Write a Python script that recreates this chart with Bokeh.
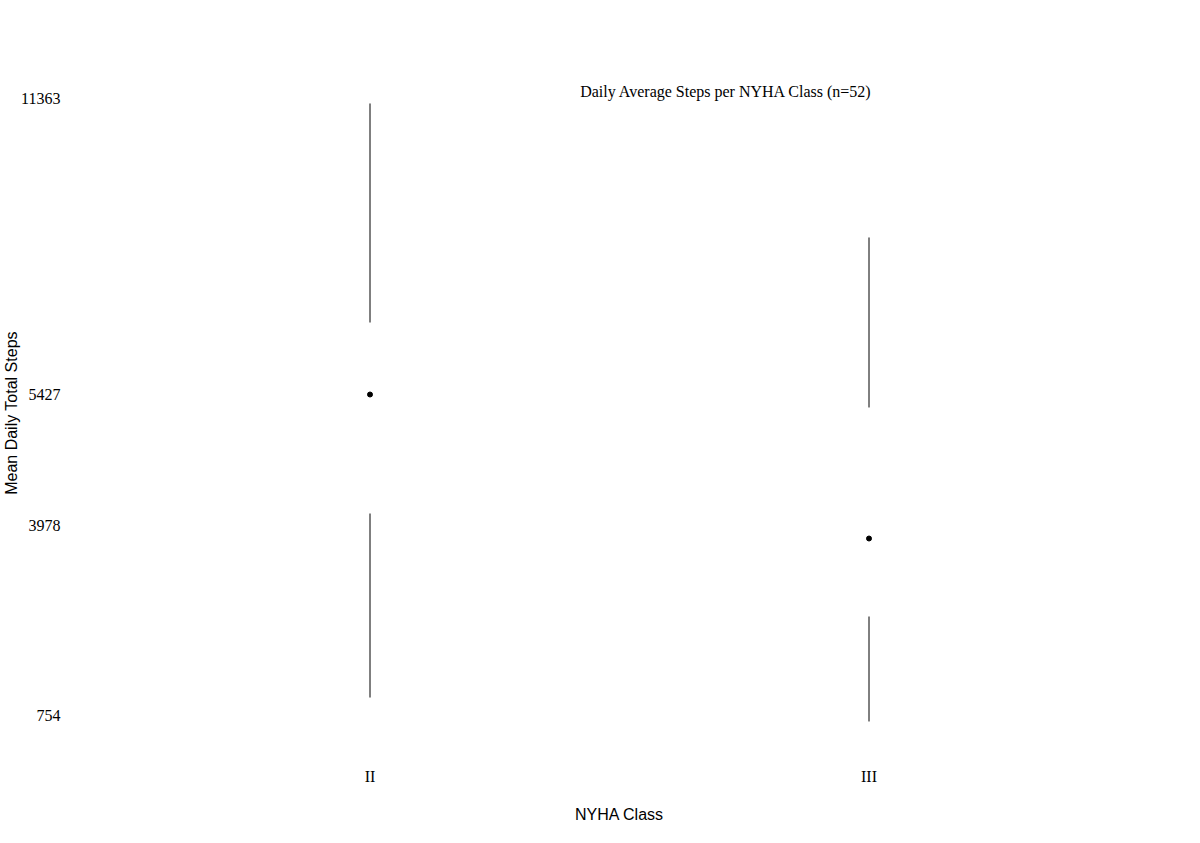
from bokeh.plotting import figure
from bokeh.models import FactorRange, Range1d, FixedTicker, Label, ColumnDataSource
from bokeh.embed import file_html
from bokeh.resources import INLINE

# NYHA classes and their step distributions (min, quartiles, max)
classes = ["II", "III"]
step_min = [1063, 651]
step_q1 = [4227, 2456]
step_median = [6273, 3797]
step_q3 = [7511, 6050]
step_max = [11277, 8973]

# y axis ticks as printed on the chart
tick_values = [754, 4021, 6273, 11363]
tick_labels = ["754", "3978", "5427", "11363"]

title_text = "Daily Average Steps per NYHA Class (n=52)"

src = ColumnDataSource(dict(cls=classes, lo=step_min, q1=step_q1,
                            med=step_median, q3=step_q3, hi=step_max))

p = figure(x_range=FactorRange(factors=classes), y_range=Range1d(238, 11672),
           width=1184, height=827, output_backend="svg", toolbar_location=None,
           min_border_left=118, min_border_right=66,
           min_border_top=80, min_border_bottom=82,
           x_axis_label="NYHA Class", y_axis_label="Mean Daily Total Steps")

# Tufte-style quartile plot: whiskers and a median dot, no box
p.segment(x0="cls", y0="lo", x1="cls", y1="q1", source=src,
          line_color="black", line_width=1)
p.segment(x0="cls", y0="q3", x1="cls", y1="hi", source=src,
          line_color="black", line_width=1)
p.scatter(x="cls", y="med", source=src, size=5,
          fill_color="black", line_color="black")

p.add_layout(Label(x=1.214, y=11483, text=title_text, text_align="center",
                   text_baseline="middle", text_font="Liberation Serif",
                   text_font_size="16px", text_color="black"))

p.yaxis.ticker = FixedTicker(ticks=tick_values)
p.yaxis.major_label_overrides = dict(zip(tick_values, tick_labels))

for ax in (p.xaxis, p.yaxis):
    ax.axis_line_color = None
    ax.major_tick_line_color = None
    ax.minor_tick_line_color = None
    ax.major_tick_out = 0
    ax.major_tick_in = 0
    ax.major_label_text_font = "Liberation Serif"
    ax.major_label_text_font_size = "16px"
    ax.major_label_text_color = "black"
    ax.axis_label_text_font = "Liberation Sans"
    ax.axis_label_text_font_style = "normal"
    ax.axis_label_text_font_size = "16px"
    ax.axis_label_text_color = "black"

p.xaxis.major_label_standoff = 22
p.xaxis.axis_label_standoff = 18
p.yaxis.major_label_standoff = 60
p.yaxis.axis_label_standoff = -2

p.xgrid.grid_line_color = None
p.ygrid.grid_line_color = None
p.outline_line_color = None

open("out.html", "w").write(file_html(p, INLINE))
